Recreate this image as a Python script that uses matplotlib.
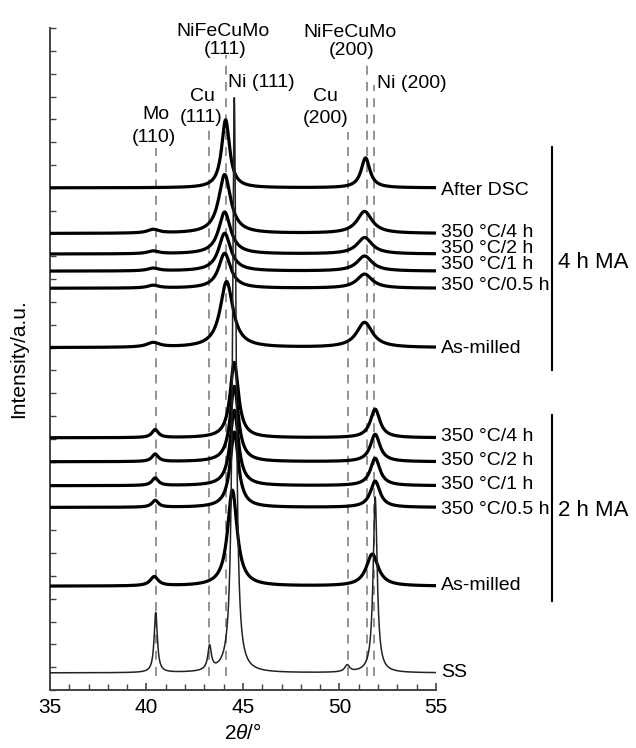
import matplotlib
matplotlib.use("Agg")
import matplotlib.pyplot as plt
import numpy as np

plt.rcParams['font.family'] = ['Liberation Sans', 'DejaVu Sans']
plt.rcParams['mathtext.fontset'] = 'custom'
plt.rcParams['mathtext.it'] = 'Liberation Sans:italic'
plt.rcParams['mathtext.rm'] = 'Liberation Sans'

# traces, top to bottom
labels = ['After DSC', '350 °C/4 h', '350 °C/2 h', '350 °C/1 h', '350 °C/0.5 h', 'As-milled',
          '350 °C/4 h', '350 °C/2 h', '350 °C/1 h', '350 °C/0.5 h', 'As-milled', 'SS']
offsets = [22.0, 20.0, 19.1, 18.35, 17.6, 15.0, 11.05, 10.0, 8.95, 8.0, 4.55, 0.75]
label_y = [21.9, 20.05, 19.35, 18.65, 17.7, 14.95, 11.1, 10.05, 9.0, 7.9, 4.6, 0.75]

# Mo (110)
mo_pos = [40.4, 40.35, 40.35, 40.35, 40.35, 40.35, 40.45, 40.45, 40.45, 40.45, 40.4, 40.48]
mo_h   = [0.0, 0.16, 0.12, 0.12, 0.12, 0.2, 0.35, 0.33, 0.33, 0.30, 0.40, 2.63]
mo_w   = [0.6, 0.7, 0.7, 0.7, 0.7, 0.8, 0.4, 0.4, 0.4, 0.4, 0.5, 0.2]
# (111)
p111_pos = [44.1, 44.05, 44.05, 44.05, 44.05, 44.15, 44.55, 44.55, 44.55, 44.55, 44.45, 44.55]
p111_h   = [2.98, 2.58, 1.84, 1.66, 1.53, 2.89, 3.3, 3.3, 3.3, 3.3, 4.2, 25.2]
p111_w   = [0.5, 0.75, 0.75, 0.75, 0.75, 0.8, 0.52, 0.52, 0.52, 0.52, 0.6, 0.22]
# (200)
p200_pos = [51.35, 51.3, 51.3, 51.3, 51.3, 51.3, 51.85, 51.85, 51.85, 51.85, 51.7, 51.85]
p200_h   = [1.31, 0.96, 0.72, 0.66, 0.62, 1.1, 1.25, 1.2, 1.2, 1.15, 1.4, 7.7]
p200_w   = [0.55, 0.95, 0.95, 0.95, 0.95, 1.0, 0.6, 0.6, 0.6, 0.6, 0.75, 0.25]
# Cu peaks, only in SS
cu_pos = [43.27, 50.4]
cu_h = [1.05, 0.3]
cu_w = [0.22, 0.3]

# reference lines: (x, top)
ref_x = [40.5, 43.25, 44.1, 50.45, 51.4, 51.8]
ref_top = [23.74, 24.66, 27.81, 24.44, 27.51, 26.5]


def peak(x, c, h, w):
    return h / (1 + ((x - c) / (w / 2)) ** 2)


x = np.linspace(35, 55, 4000)

fig = plt.figure(figsize=(6.36, 7.48), dpi=100)
ax = fig.add_axes([0.0786, 0.0775, 0.6069, 0.885])

for rx, rt in zip(ref_x, ref_top):
    ax.plot([rx, rx], [0.6, rt], color='#8a8a8a', lw=1.3, ls=(0, (5, 4)), zorder=1)

for i in range(len(labels)):
    y = offsets[i] + peak(x, mo_pos[i], mo_h[i], mo_w[i]) \
        + peak(x, p111_pos[i], p111_h[i], p111_w[i]) \
        + peak(x, p200_pos[i], p200_h[i], p200_w[i])
    if labels[i] == 'SS':
        for c, h, w in zip(cu_pos, cu_h, cu_w):
            y = y + peak(x, c, h, w)
        ax.plot(x, y, color='#222222', lw=1.1, zorder=3)
    else:
        ax.plot(x, y, color='black', lw=2.3, zorder=3)
    ax.text(55.25, label_y[i], labels[i], fontsize=14, va='center', ha='left')

# peak labels
ax.text(43.94, 28.85, 'NiFeCuMo', fontsize=14, ha='center', va='center', clip_on=False)
ax.text(44.09, 28.08, '(111)', fontsize=14, ha='center', va='center', clip_on=False)
ax.text(50.57, 28.8, 'NiFeCuMo', fontsize=14, ha='center', va='center', clip_on=False)
ax.text(50.65, 28.03, '(200)', fontsize=14, ha='center', va='center', clip_on=False)
ax.text(40.49, 25.2, 'Mo', fontsize=14, ha='center', va='center')
ax.text(40.38, 24.22, '(110)', fontsize=14, ha='center', va='center')
ax.text(42.9, 26.0, 'Cu', fontsize=14, ha='center', va='center')
ax.text(42.84, 25.1, '(111)', fontsize=14, ha='center', va='center')
ax.text(49.27, 26.0, 'Cu', fontsize=14, ha='center', va='center')
ax.text(49.27, 25.05, '(200)', fontsize=14, ha='center', va='center')
ax.text(44.2, 26.6, 'Ni (111)', fontsize=14, ha='left', va='center')
ax.text(51.95, 26.55, 'Ni (200)', fontsize=14, ha='left', va='center')

# group brackets
ax.plot([61.0, 61.0], [14.02, 23.78], color='black', lw=1.5, clip_on=False)
ax.plot([61.0, 61.0], [3.9, 12.05], color='black', lw=1.5, clip_on=False)
ax.text(61.3, 18.75, '4 h MA', fontsize=16, ha='left', va='center')
ax.text(61.3, 7.88, '2 h MA', fontsize=16, ha='left', va='center')

ax.set_xlim(35, 55)
ax.set_ylim(0, 29)
ax.set_xticks([35, 40, 45, 50, 55])
ax.set_xticks(np.arange(35, 56, 1), minor=True)
ax.set_yticks(np.arange(0, 30, 1))
ax.set_yticklabels([])
ax.tick_params(axis='x', which='major', direction='in', length=5, width=1.2,
               colors='#444444', labelsize=15, labelcolor='black', pad=6)
ax.tick_params(axis='x', which='minor', direction='in', length=4, width=1.0, colors='#444444')
ax.tick_params(axis='y', direction='in', length=4, width=1.0, colors='#444444')
for s in ['top', 'right']:
    ax.spines[s].set_visible(False)
for s in ['left', 'bottom']:
    ax.spines[s].set_color('#444444')
    ax.spines[s].set_linewidth(1.4)

ax.set_xlabel('2$\\mathit{\\theta}$/°', fontsize=15, labelpad=4)
ax.set_ylabel('Intensity/a.u.', fontsize=15, labelpad=12)

fig.savefig('out.png', dpi=100)
